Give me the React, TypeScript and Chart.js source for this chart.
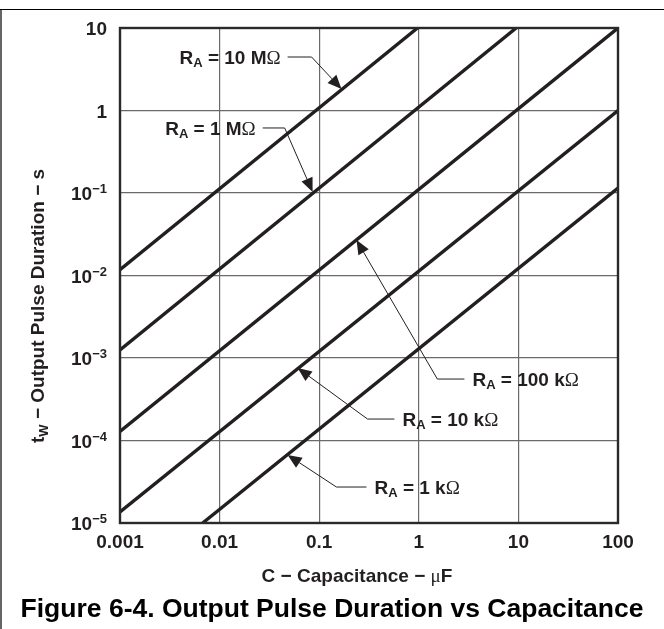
import React, { useEffect, useRef } from "react";
import { Chart, registerables } from "chart.js";

Chart.register(...registerables);

// ---- Data ----
const seriesNames = ["10 M", "1 M", "100 k", "10 k", "1 k"];
const r10M = [
  { x: 0.001, y: 0.0118 },
  { x: 0.97, y: 10 },
];
const r1M = [
  { x: 0.001, y: 0.00125 },
  { x: 9.5, y: 10 },
];
const r100k = [
  { x: 0.001, y: 0.000129 },
  { x: 100, y: 10 },
];
const r10k = [
  { x: 0.001, y: 0.0000136 },
  { x: 100, y: 1.0 },
];
const r1k = [
  { x: 0.00676, y: 0.00001 },
  { x: 100, y: 0.115 },
];
const seriesData = [r10M, r1M, r100k, r10k, r1k];

const xTickValues = [0.001, 0.01, 0.1, 1, 10, 100];
const xTickLabels = ["0.001", "0.01", "0.1", "1", "10", "100"];
const yTickValues = [10, 1, 0.1, 0.01, 0.001, 0.0001, 0.00001];
const yTickExps = ["", "", "−1", "−2", "−3", "−4", "−5"];
const yTickBases = ["10", "1", "10", "10", "10", "10", "10"];

// annotation anchors in data coordinates: tip (on line), elbow, end of horizontal leader
const annTipC = [0.1675, 0.0859, 0.237, 0.0608, 0.0482];
const annTipT = [1.82, 0.1028, 0.0269, 0.000757, 0.0000667];
const annElbowC = [0.0839, 0.045, 1.535, 0.3055, 0.149];
const annElbowT = [4.45, 0.614, 0.000556, 0.000182, 0.0000273];
const annEndC = [0.0482, 0.0271, 2.87, 0.569, 0.2985];
const annSide = ["left", "left", "right", "right", "right"];

const xTitle = ["C − Capacitance − ", "μ", "F"];
const yTitle = ["t", "W", " − Output Pulse Duration − s"];
const figTitle = "Figure 6-4. Output Pulse Duration vs Capacitance";

const FONT = "'Liberation Sans', Arial, Helvetica, sans-serif";
const SYM = "'Liberation Serif', 'Times New Roman', serif";
const INK = "#231f20";

type Seg = { t: string; size: number; bold?: boolean; fam?: string; dy?: number };

function segFont(s: Seg) {
  return `${s.bold === false ? "" : "bold "}${s.size}px ${s.fam || FONT}`;
}

function drawRich(ctx: CanvasRenderingContext2D, segs: Seg[], x: number, y: number, align: string) {
  let total = 0;
  for (const s of segs) {
    ctx.font = segFont(s);
    total += ctx.measureText(s.t).width;
  }
  let cx = align === "right" ? x - total : align === "center" ? x - total / 2 : x;
  ctx.textAlign = "left";
  ctx.textBaseline = "alphabetic";
  for (const s of segs) {
    ctx.font = segFont(s);
    ctx.fillText(s.t, cx, y + (s.dy || 0));
    cx += ctx.measureText(s.t).width;
  }
}

const decorPlugin = {
  id: "decor",
  afterDatasetsDraw(chart: any) {
    const ctx: CanvasRenderingContext2D = chart.ctx;
    const xs = chart.scales.x;
    const ys = chart.scales.y;
    const a = chart.chartArea;
    ctx.save();

    // plot border
    ctx.strokeStyle = "#2a2a2a";
    ctx.lineWidth = 2.4;
    ctx.strokeRect(a.left, a.top, a.right - a.left, a.bottom - a.top);

    // figure frame (top and left)
    ctx.strokeStyle = "#000";
    ctx.lineWidth = 1.2;
    ctx.beginPath();
    ctx.moveTo(0, 9.5);
    ctx.lineTo(chart.width, 9.5);
    ctx.moveTo(1, 9.5);
    ctx.lineTo(1, chart.height);
    ctx.stroke();

    ctx.fillStyle = INK;
    // x tick labels
    xTickValues.forEach((v, i) => {
      const px = xs.getPixelForValue(v);
      drawRich(ctx, [{ t: xTickLabels[i], size: 19 }], px, a.bottom + 25, "center");
    });
    // y tick labels
    yTickValues.forEach((v, i) => {
      const py = ys.getPixelForValue(v);
      const segs: Seg[] = [{ t: yTickBases[i], size: 19 }];
      if (yTickExps[i]) segs.push({ t: yTickExps[i], size: 13, dy: -7 });
      drawRich(ctx, segs, a.left - 13, py + 7, "right");
    });

    // axis titles
    drawRich(
      ctx,
      [
        { t: xTitle[0], size: 19 },
        { t: xTitle[1], size: 19, bold: false, fam: SYM },
        { t: xTitle[2], size: 19 },
      ],
      357,
      582,
      "center"
    );
    ctx.save();
    ctx.translate(44, 443);
    ctx.rotate(-Math.PI / 2);
    drawRich(
      ctx,
      [
        { t: yTitle[0], size: 19 },
        { t: yTitle[1], size: 13, dy: 4 },
        { t: yTitle[2], size: 19 },
      ],
      0,
      0,
      "left"
    );
    ctx.restore();

    // figure caption
    ctx.fillStyle = "#000";
    drawRich(ctx, [{ t: figTitle, size: 26.5 }], 332, 617, "center");

    // annotations
    ctx.fillStyle = INK;
    seriesNames.forEach((name, i) => {
      const tx = xs.getPixelForValue(annTipC[i]);
      const ty = ys.getPixelForValue(annTipT[i]);
      const ex = xs.getPixelForValue(annElbowC[i]);
      const ey = ys.getPixelForValue(annElbowT[i]);
      const hx = xs.getPixelForValue(annEndC[i]);
      ctx.strokeStyle = INK;
      ctx.lineWidth = 1;
      const ang = Math.atan2(ty - ey, tx - ex);
      const L = 14;
      const W = 6;
      const bx = tx - L * Math.cos(ang);
      const by = ty - L * Math.sin(ang);
      ctx.beginPath();
      ctx.moveTo(hx, ey);
      ctx.lineTo(ex, ey);
      ctx.lineTo(bx, by);
      ctx.stroke();
      ctx.beginPath();
      ctx.moveTo(tx, ty);
      ctx.lineTo(bx + W * Math.sin(ang), by - W * Math.cos(ang));
      ctx.lineTo(bx - W * Math.sin(ang), by + W * Math.cos(ang));
      ctx.closePath();
      ctx.fill();

      const segs: Seg[] = [
        { t: "R", size: 19 },
        { t: "A", size: 13, dy: 3 },
        { t: " = " + name, size: 19 },
        { t: "Ω", size: 19, bold: false, fam: SYM },
      ];
      if (annSide[i] === "left") {
        drawRich(ctx, segs, hx - 7, ey + 7, "right");
      } else {
        drawRich(ctx, segs, hx + 8, ey + 7, "left");
      }
    });

    ctx.restore();
  },
};

export default function App() {
  const ref = useRef<HTMLCanvasElement | null>(null);
  useEffect(() => {
    document.body.style.margin = "0";
    const canvas = ref.current!;
    const chart = new Chart(canvas, {
      type: "line",
      data: {
        datasets: seriesData.map((d, i) => ({
          label: "R_A = " + seriesNames[i] + "Ω",
          data: d,
          borderColor: INK,
          borderWidth: 3.4,
          pointRadius: 0,
          fill: false,
          tension: 0,
        })),
      },
      options: {
        responsive: false,
        animation: false,
        events: [],
        layout: { padding: { left: 120, top: 28, right: 46, bottom: 106 } },
        plugins: { legend: { display: false }, tooltip: { enabled: false }, title: { display: false } },
        scales: {
          x: {
            type: "logarithmic",
            min: 0.001,
            max: 100,
            afterBuildTicks: (axis: any) => {
              axis.ticks = xTickValues.map((v) => ({ value: v }));
            },
            ticks: { display: false },
            border: { display: false },
            grid: { color: "#6a6a6a", lineWidth: 1.2, drawTicks: false },
          },
          y: {
            type: "logarithmic",
            min: 0.00001,
            max: 10,
            afterBuildTicks: (axis: any) => {
              axis.ticks = yTickValues.map((v) => ({ value: v }));
            },
            ticks: { display: false },
            border: { display: false },
            grid: { color: "#6a6a6a", lineWidth: 1.2, drawTicks: false },
          },
        },
      } as any,
      plugins: [decorPlugin],
    });
    return () => chart.destroy();
  }, []);
  return (
    <div style={{ position: "absolute", left: 0, top: 0, width: 664, height: 629, background: "#fff" }}>
      <canvas ref={ref} width={664} height={629} style={{ display: "block" }} />
    </div>
  );
}
